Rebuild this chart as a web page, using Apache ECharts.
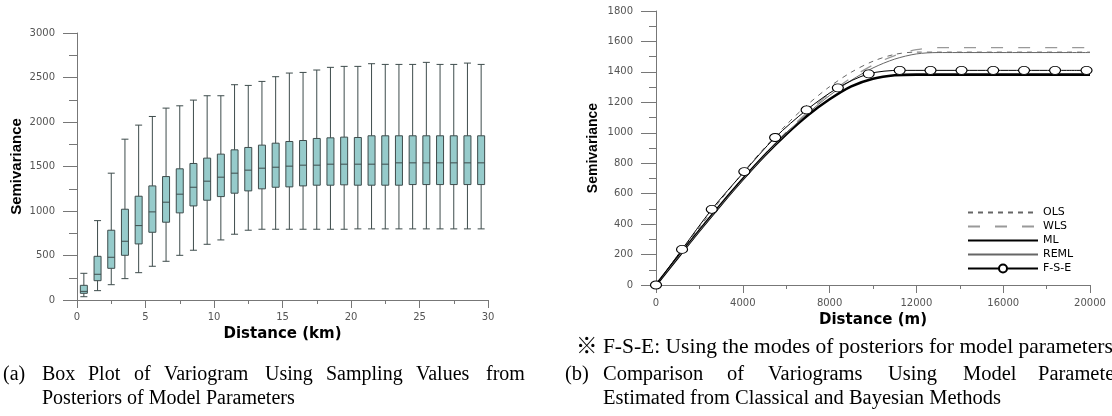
<!DOCTYPE html>
<html>
<head>
<meta charset="utf-8">
<script src="https://cdn.jsdelivr.net/npm/echarts@6.0.0/dist/echarts.min.js"></script>
<style>
  html, body { margin: 0; padding: 0; background: #fff; }
  #chart { width: 1112px; height: 416px; }
</style>
</head>
<body>
<div id="chart"></div>
<script>
  // (a) box plot, one box per 1 km lag
  var boxCenters = ['0.5','1.5','2.5','3.5','4.5','5.5','6.5','7.5','8.5','9.5',
    '10.5','11.5','12.5','13.5','14.5','15.5','16.5','17.5','18.5','19.5',
    '20.5','21.5','22.5','23.5','24.5','25.5','26.5','27.5','28.5','29.5']
  var boxMin = [37,105,172,240,307,379,435,502,559,626,675,739,784,795,795,795,795,795,795,795,
    799,799,799,799,799,799,799,799,799,799]
  var boxQ1 = [75,217,356,502,630,761,874,979,1057,1121,1162,1200,1226,1249,1267,1271,1282,1290,1290,1294,
    1290,1290,1290,1290,1297,1297,1297,1297,1297,1297]
  var boxMedian = [97,289,480,660,836,990,1099,1189,1267,1335,1380,1425,1459,1481,1492,1504,1515,1515,1526,1526,
    1526,1526,1526,1541,1541,1541,1541,1541,1541,1541]
  var boxQ3 = [165,491,784,1020,1166,1282,1387,1474,1534,1594,1639,1687,1714,1740,1762,1781,1792,1815,1822,1830,
    1826,1845,1845,1845,1845,1845,1845,1845,1845,1845]
  var boxMax = [300,892,1425,1807,1965,2062,2156,2182,2246,2295,2295,2419,2411,2456,2509,2550,2557,2584,2614,2625,
    2625,2655,2647,2647,2647,2670,2647,2647,2662,2647]

  // (b) variogram curves, distance in m
  var distM = [0,1000,2000,3000,4000,5000,6000,7000,8000,9000,10000,11000,12000,13000,20000]
  var olsVal = [0,191,379,562,737,901,1052,1187,1303,1398,1470,1515,1530,1530,1530]
  var wlsVal = [0,180,357,531,697,856,1003,1138,1258,1361,1445,1507,1546,1560,1560]
  var mlVal = [0,180,358,530,695,850,990,1115,1220,1305,1355,1378,1382,1382,1382]
  var remlVal = [0,179,355,527,692,849,995,1128,1245,1345,1426,1484,1518,1527,1527]
  var fseDist = [0,1200,2570,4070,5490,6940,8380,9800,11230,12650,14080,15540,16960,18390,19840]
  var fseVal = [0,234,497,745,969,1150,1295,1387,1410,1410,1410,1410,1410,1410,1410]

  function pairs(xs, ys) {
    return xs.map(function (x, i) { return [x, ys[i]] })
  }

  var boxData = boxCenters.map(function (c, i) {
    return [boxMin[i], boxQ1[i], boxMedian[i], boxQ3[i], boxMax[i]]
  })

  var axisGray = '#777'
  var noMark = 'rgba(0,0,0,0)'
  var labelStyle = { fontFamily: 'DejaVu Sans', fontSize: 10, color: '#555' }
  var yName = function (size) {
    return { fontFamily: '"Liberation Sans Narrow", "Liberation Sans"', fontWeight: 'bold', fontSize: size, color: '#000' }
  }
  var xNameStyle = { fontFamily: 'DejaVu Sans', fontWeight: 'bold', fontSize: 15, color: '#000' }
  var plain = function (v) { return String(v) }

  // captions, laid out word by word to mimic the justified print
  var serifA = '20px "Liberation Serif", serif'
  var serifB = '20.5px "Liberation Serif", serif'
  var serifNote = '21.5px "Liberation Serif", "Noto Sans CJK SC", serif'
  var captionWords = [
    ['(a)', 3, 365, serifA], ['Box', 42, 365, serifA], ['Plot', 88, 365, serifA], ['of', 134, 365, serifA],
    ['Variogram', 164, 365, serifA], ['Using', 265, 365, serifA], ['Sampling', 326, 365, serifA],
    ['Values', 416, 365, serifA], ['from', 486, 365, serifA],
    ['Posteriors of Model Parameters', 42, 389, serifA],
    ['※ F-S-E: Using the modes of posteriors for model parameters', 576, 337, serifNote],
    ['(b)', 565, 364, serifB], ['Comparison', 603, 364, serifB], ['of', 727, 364, serifB],
    ['Variograms', 768, 364, serifB], ['Using', 888, 364, serifB], ['Model', 963, 364, serifB],
    ['Parameters', 1038, 364, serifB],
    ['Estimated from Classical and Bayesian Methods', 603, 388, serifB]
  ]
  var graphics = captionWords.map(function (w) {
    return { type: 'text', left: w[1], top: w[2], style: { text: w[0], font: w[3], fill: '#000' } }
  })

  var chart = echarts.init(document.getElementById('chart'))
  chart.setOption({
    animation: false,
    backgroundColor: '#fff',
    grid: [
      { left: 77, top: 33, width: 411, height: 267 },
      { left: 656, top: 11, width: 434, height: 274 }
    ],
    xAxis: [
      {
        gridIndex: 0, type: 'value', min: 0, max: 30, interval: 5,
        name: 'Distance (km)', nameLocation: 'middle', nameGap: 20, nameTextStyle: xNameStyle,
        axisLine: { lineStyle: { color: axisGray } },
        axisTick: { length: 8, lineStyle: { color: axisGray } },
        minorTick: { show: true, splitNumber: 2, length: 4, lineStyle: { color: axisGray } },
        axisLabel: Object.assign({ margin: 12, formatter: plain }, labelStyle),
        splitLine: { show: false }
      },
      { gridIndex: 0, type: 'category', data: boxCenters, show: false },
      {
        gridIndex: 1, type: 'value', min: 0, max: 20000, interval: 4000,
        name: 'Distance (m)', nameLocation: 'middle', nameGap: 19, nameTextStyle: xNameStyle,
        axisLine: { lineStyle: { color: axisGray } },
        axisTick: { length: 8, lineStyle: { color: axisGray } },
        minorTick: { show: true, splitNumber: 2, length: 4, lineStyle: { color: axisGray } },
        axisLabel: Object.assign({ margin: 13, formatter: plain }, labelStyle),
        splitLine: { show: false }
      }
    ],
    yAxis: [
      {
        gridIndex: 0, type: 'value', min: 0, max: 3000, interval: 500,
        name: 'Semivariance', nameLocation: 'middle', nameGap: 53, nameTextStyle: yName(15),
        axisLine: { show: true, lineStyle: { color: axisGray } },
        axisTick: { show: true, length: 14, lineStyle: { color: axisGray } },
        minorTick: { show: true, splitNumber: 2, length: 8, lineStyle: { color: axisGray } },
        axisLabel: Object.assign({ margin: 22, formatter: plain }, labelStyle),
        splitLine: { show: false }
      },
      {
        gridIndex: 1, type: 'value', min: 0, max: 1800, interval: 200,
        name: 'Semivariance', nameLocation: 'middle', nameGap: 56, nameTextStyle: yName(14),
        axisLine: { show: true, lineStyle: { color: axisGray } },
        axisTick: { show: true, length: 15, lineStyle: { color: axisGray } },
        minorTick: { show: true, splitNumber: 2, length: 7, lineStyle: { color: axisGray } },
        axisLabel: Object.assign({ margin: 23, formatter: plain }, labelStyle),
        splitLine: { show: false }
      }
    ],
    legend: {
      orient: 'vertical', left: 962, top: 202,
      itemWidth: 70, itemHeight: 10, itemGap: 3,
      textStyle: { fontFamily: 'DejaVu Sans', fontSize: 11, color: '#000', lineHeight: 11 },
      data: ['OLS', 'WLS', 'ML', 'REML', 'F-S-E']
    },
    series: [
      {
        type: 'boxplot', xAxisIndex: 1, yAxisIndex: 0,
        data: boxData, boxWidth: [7, 7],
        itemStyle: { color: '#96cbcb', borderColor: '#3e4c4c', borderWidth: 1 },
        emphasis: { disabled: true }
      },
      {
        name: 'OLS', type: 'line', xAxisIndex: 2, yAxisIndex: 1,
        data: pairs(distM, olsVal), symbol: 'none', smooth: 0.3,
        itemStyle: { color: noMark, borderWidth: 0 },
        lineStyle: { color: '#666', width: 1, type: [5, 5] }
      },
      {
        name: 'WLS', type: 'line', xAxisIndex: 2, yAxisIndex: 1,
        data: pairs(distM, wlsVal), symbol: 'none', smooth: 0.3,
        itemStyle: { color: noMark, borderWidth: 0 },
        lineStyle: { color: '#999', width: 1.3, type: [12, 15] }
      },
      {
        name: 'ML', type: 'line', xAxisIndex: 2, yAxisIndex: 1,
        data: pairs(distM, mlVal), symbol: 'none', smooth: 0.3,
        itemStyle: { color: noMark, borderWidth: 0 },
        lineStyle: { color: '#000', width: 2.6 }
      },
      {
        name: 'REML', type: 'line', xAxisIndex: 2, yAxisIndex: 1,
        data: pairs(distM, remlVal), symbol: 'none', smooth: 0.3,
        itemStyle: { color: noMark, borderWidth: 0 },
        lineStyle: { color: '#666', width: 1 }
      },
      {
        name: 'F-S-E', type: 'line', xAxisIndex: 2, yAxisIndex: 1,
        data: pairs(fseDist, fseVal), smooth: 0.3,
        symbol: 'circle', symbolSize: [11, 8], showAllSymbol: true,
        itemStyle: { color: '#fff', borderColor: '#000', borderWidth: 1 },
        lineStyle: { color: '#000', width: 1 },
        z: 5
      }
    ],
    graphic: graphics
  })
</script>
</body>
</html>
